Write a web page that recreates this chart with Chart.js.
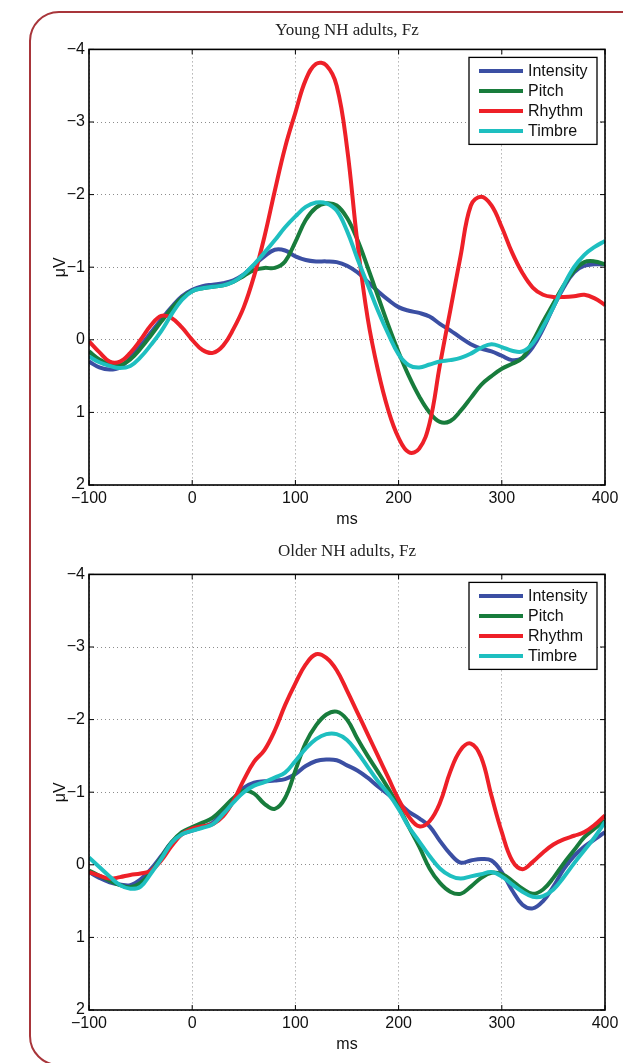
<!DOCTYPE html>
<html>
<head>
<meta charset="utf-8">
<script src="https://cdn.jsdelivr.net/npm/chart.js@4.4.1/dist/chart.umd.min.js"></script>
<style>
  html, body { margin: 0; padding: 0; background: #fff; }
  body { width: 623px; height: 1063px; position: relative; overflow: hidden; }
  .frame {
    position: absolute; left: 29px; top: 11px; width: 720px; height: 1051px;
    border: 2px solid #a8353a; border-radius: 30px;
  }
  canvas { position: absolute; left: 0; }
  #young { top: 0; }
  #older { top: 525px; }
</style>
</head>
<body>
<div class="frame"></div>
<canvas id="young" width="623" height="530"></canvas>
<canvas id="older" width="623" height="530"></canvas>
<script>
// time axis (ms)
const ms = [-100, -90, -80, -70, -60, -50, -40, -30, -20, -10,
  0, 10, 20, 30, 40, 50, 60, 70, 80, 90,
  100, 110, 120, 130, 140, 150, 160, 170, 180, 190,
  200, 210, 220, 230, 240, 250, 260, 270, 280, 290,
  300, 310, 320, 330, 340, 350, 360, 370, 380, 390, 400];

const seriesLabels = ['Intensity', 'Pitch', 'Rhythm', 'Timbre'];
const seriesColors = ['#3b4fa3', '#187c3c', '#ee2028', '#1ebfc0'];
const xTicks = [-100, 0, 100, 200, 300, 400];
const yTicks = [-4, -3, -2, -1, 0, 1, 2];

// Young NH adults, Fz (uV)
const youngIntensity = [0.3, 0.38, 0.41, 0.38, 0.25, 0.08, -0.1, -0.28, -0.45, -0.6,
  -0.69, -0.74, -0.76, -0.78, -0.82, -0.9, -1.03, -1.15, -1.24, -1.23,
  -1.15, -1.1, -1.08, -1.08, -1.07, -1.02, -0.93, -0.8, -0.67, -0.55,
  -0.45, -0.4, -0.37, -0.32, -0.22, -0.13, -0.03, 0.06, 0.12, 0.16,
  0.22, 0.28, 0.25, 0.1, -0.15, -0.45, -0.72, -0.93, -1.02, -1.04, -1.04];
const youngPitch = [0.16, 0.27, 0.34, 0.35, 0.27, 0.12, -0.06, -0.25, -0.43, -0.58,
  -0.67, -0.71, -0.73, -0.75, -0.8, -0.88, -0.96, -0.99, -0.99, -1.08,
  -1.35, -1.65, -1.82, -1.88, -1.85, -1.68, -1.38, -1.0, -0.6, -0.2,
  0.17, 0.5, 0.78, 1.0, 1.13, 1.12, 0.98, 0.8, 0.62, 0.5,
  0.4, 0.33, 0.25, 0.02, -0.25, -0.5, -0.75, -0.95, -1.07, -1.08, -1.04];
const youngRhythm = [0.02, 0.17, 0.3, 0.3, 0.18, 0.0, -0.2, -0.33, -0.3, -0.17,
  0.0, 0.14, 0.18, 0.08, -0.15, -0.45, -0.88, -1.42, -2.05, -2.65,
  -3.13, -3.58, -3.8, -3.78, -3.5, -2.65, -1.35, -0.3, 0.42, 0.97,
  1.35, 1.55, 1.5, 1.15, 0.35, -0.4, -1.15, -1.85, -1.97, -1.85,
  -1.55, -1.2, -0.92, -0.72, -0.62, -0.59, -0.59, -0.6, -0.62, -0.57, -0.48];
const youngTimbre = [0.23, 0.31, 0.36, 0.39, 0.36, 0.24, 0.07, -0.12, -0.35, -0.55,
  -0.67, -0.71, -0.73, -0.75, -0.8, -0.9, -1.04, -1.2, -1.37, -1.55,
  -1.7, -1.83, -1.89, -1.88, -1.78, -1.5, -1.12, -0.76, -0.4, -0.08,
  0.2, 0.35, 0.38, 0.34, 0.3, 0.28, 0.25, 0.19, 0.11, 0.06,
  0.1, 0.15, 0.16, 0.05, -0.18, -0.45, -0.75, -1.0, -1.17, -1.28, -1.36];

// Older NH adults, Fz (uV)
const olderIntensity = [0.1, 0.18, 0.24, 0.27, 0.28, 0.2, 0.06, -0.12, -0.31, -0.42,
  -0.47, -0.52, -0.58, -0.73, -0.9, -1.06, -1.13, -1.15, -1.16, -1.18,
  -1.25, -1.36, -1.43, -1.45, -1.44, -1.37, -1.3, -1.2, -1.08, -0.97,
  -0.85, -0.73, -0.64, -0.53, -0.33, -0.15, -0.03, -0.06, -0.08, -0.06,
  0.1, 0.35, 0.55, 0.6, 0.5, 0.3, 0.06, -0.12, -0.25, -0.35, -0.45];
const olderPitch = [0.08, 0.15, 0.22, 0.28, 0.31, 0.25, 0.1, -0.1, -0.31, -0.45,
  -0.52, -0.58, -0.65, -0.78, -0.92, -1.02, -0.98, -0.84, -0.77, -0.92,
  -1.3, -1.68, -1.92, -2.07, -2.11, -2.0, -1.74, -1.5, -1.28, -1.05,
  -0.8, -0.52, -0.25, 0.05, 0.25, 0.37, 0.4, 0.3, 0.18, 0.11,
  0.13, 0.22, 0.33, 0.4, 0.34, 0.18, -0.02, -0.2, -0.38, -0.5, -0.61];
const olderRhythm = [0.1, 0.15, 0.19, 0.17, 0.14, 0.12, 0.08, -0.06, -0.26, -0.42,
  -0.5, -0.53, -0.56, -0.67, -0.88, -1.17, -1.42, -1.58, -1.85, -2.2,
  -2.5, -2.76, -2.9, -2.85, -2.68, -2.4, -2.1, -1.8, -1.5, -1.2,
  -0.9, -0.66, -0.53, -0.6, -0.85, -1.28, -1.58, -1.67, -1.48, -0.95,
  -0.45, -0.06, 0.06, -0.04, -0.17, -0.28, -0.35, -0.4, -0.45, -0.55, -0.68];
const olderTimbre = [-0.1, 0.03, 0.16, 0.28, 0.33, 0.3, 0.12, -0.08, -0.3, -0.42,
  -0.47, -0.51, -0.56, -0.7, -0.86, -1.0, -1.09, -1.14, -1.2, -1.27,
  -1.43, -1.6, -1.73, -1.8, -1.8, -1.72, -1.55, -1.35, -1.15, -0.98,
  -0.77, -0.52, -0.32, -0.12, 0.05, 0.15, 0.19, 0.16, 0.13, 0.1,
  0.16, 0.27, 0.37, 0.44, 0.43, 0.34, 0.17, -0.02, -0.2, -0.38, -0.59];

const sansFont = '"Liberation Sans", Arial, sans-serif';
const serifFont = '"Liberation Serif", "Times New Roman", serif';
const minus = v => String(v).replace('-', '\u2212');

// box around the plot with inward ticks, MATLAB style
const framePlugin = {
  id: 'frame',
  afterDatasetsDraw(chart) {
    const {ctx, chartArea: a, scales} = chart;
    ctx.save();
    ctx.strokeStyle = '#000';
    ctx.lineWidth = 1.6;
    ctx.strokeRect(a.left, a.top, a.right - a.left, a.bottom - a.top);
    ctx.lineWidth = 1;
    ctx.beginPath();
    xTicks.forEach(t => {
      const x = scales.x.getPixelForValue(t);
      ctx.moveTo(x, a.top); ctx.lineTo(x, a.top + 5);
      ctx.moveTo(x, a.bottom); ctx.lineTo(x, a.bottom - 5);
    });
    yTicks.forEach(t => {
      const y = scales.y.getPixelForValue(t);
      ctx.moveTo(a.left, y); ctx.lineTo(a.left + 5, y);
      ctx.moveTo(a.right, y); ctx.lineTo(a.right - 5, y);
    });
    ctx.stroke();
    ctx.restore();
  }
};

// legend box in the upper right corner
const legendBoxPlugin = {
  id: 'legendBox',
  afterDraw(chart) {
    const {ctx, chartArea: a} = chart;
    const w = 128, h = 87;
    const left = a.right - 8 - w, top = a.top + 8;
    ctx.save();
    ctx.fillStyle = '#fff';
    ctx.fillRect(left, top, w, h);
    ctx.strokeStyle = '#000';
    ctx.lineWidth = 1.3;
    ctx.strokeRect(left, top, w, h);
    ctx.font = '16px ' + sansFont;
    ctx.textBaseline = 'middle';
    chart.data.datasets.forEach((ds, i) => {
      const y = top + 13.5 + i * 20;
      ctx.strokeStyle = ds.borderColor;
      ctx.lineWidth = 4;
      ctx.beginPath();
      ctx.moveTo(left + 10, y);
      ctx.lineTo(left + 54, y);
      ctx.stroke();
      ctx.fillStyle = '#111';
      ctx.fillText(ds.label, left + 59, y + 1);
    });
    ctx.restore();
  }
};

function createErpChart(canvasId, title, titlePad, series) {
  const ctx = document.getElementById(canvasId).getContext('2d');
  const datasets = series.map((vals, i) => ({
    label: seriesLabels[i],
    data: ms.map((t, j) => ({x: t, y: vals[j]})),
    borderColor: seriesColors[i],
    backgroundColor: seriesColors[i],
    borderWidth: 4,
    pointRadius: 0,
    tension: 0.4,
    fill: false,
    order: series.length - i,
  }));

  return new Chart(ctx, {
    type: 'line',
    data: {datasets: datasets},
    options: {
      responsive: false,
      animation: false,
      layout: {padding: {left: 47, right: 18, top: 0, bottom: 0}},
      plugins: {
        legend: {display: false},
        tooltip: {enabled: false},
        title: {
          display: true,
          text: title,
          fullSize: false,
          color: '#222',
          font: {family: serifFont, size: 17, weight: 'normal', lineHeight: 1.2},
          padding: titlePad,
        },
      },
      scales: {
        x: {
          type: 'linear',
          min: -100,
          max: 400,
          afterBuildTicks: s => { s.ticks = xTicks.map(v => ({value: v})); },
          afterFit: s => { s.height = 45; s.paddingLeft = 0; s.paddingRight = 0; },
          ticks: {
            color: '#111',
            font: {family: sansFont, size: 16},
            padding: 4,
            maxRotation: 0,
            callback: v => minus(v),
          },
          grid: {color: '#8c8c8c', lineWidth: 1, drawTicks: false},
          border: {display: false, dash: [1, 3]},
          title: {
            display: true,
            text: 'ms',
            color: '#111',
            font: {family: sansFont, size: 16},
            padding: {top: 0, bottom: 1},
          },
        },
        y: {
          reverse: true,
          min: -4,
          max: 2,
          afterBuildTicks: s => { s.ticks = yTicks.map(v => ({value: v})); },
          afterFit: s => { s.width = 42; s.paddingTop = 0; s.paddingBottom = 0; },
          ticks: {
            color: '#111',
            font: {family: sansFont, size: 16},
            padding: 4,
            callback: v => minus(v),
          },
          grid: {color: '#8c8c8c', lineWidth: 1, drawTicks: false},
          border: {display: false, dash: [1, 3]},
          title: {
            display: true,
            text: '\u03bcV',
            color: '#111',
            font: {family: sansFont, size: 16},
            padding: {top: 4, bottom: 0},
          },
        },
      },
    },
    plugins: [framePlugin, legendBoxPlugin],
  });
}

document.addEventListener('DOMContentLoaded', function () {
  createErpChart('young', 'Young NH adults, Fz', {top: 20, bottom: 9},
    [youngIntensity, youngPitch, youngRhythm, youngTimbre]);
  createErpChart('older', 'Older NH adults, Fz', {top: 16, bottom: 13},
    [olderIntensity, olderPitch, olderRhythm, olderTimbre]);
});
</script>
</body>
</html>
